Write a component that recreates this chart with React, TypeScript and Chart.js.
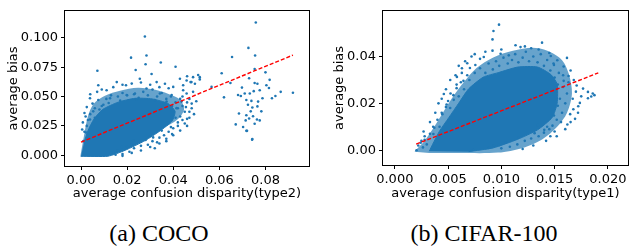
import React, { useEffect, useRef } from "react";
import { Chart, registerables } from "chart.js";

Chart.register(...registerables);

const FONT = "'DejaVu Sans', sans-serif";
const BLUE = "#1f77b4";
const BLUE_HALO = "rgba(31,119,180,0.68)";
const RED = "#ff0000";

// ---------- (a) COCO ----------
const cocoXTicks = [0, 0.02, 0.04, 0.06, 0.08];
const cocoXTickLabels = ["0.00", "0.02", "0.04", "0.06", "0.08"];
const cocoYTicks = [0, 0.025, 0.05, 0.075, 0.1];
const cocoYTickLabels = ["0.000", "0.025", "0.050", "0.075", "0.100"];
const cocoXRange = [-0.00694, 0.09887];
const cocoYRange = [-0.00914, 0.123];
const cocoXTitle = "average confusion disparity(type2)";
const cocoYTitle = "average bias";
const cocoCaption = "(a) COCO";

// saturated core of the COCO cloud (outline)
const cocoCore: [number, number][] = [
  [0.0, -0.0008], [0.0117, -0.0008], [0.0191, 0.0042], [0.0278, 0.0125], [0.0343, 0.0208],
  [0.0395, 0.0291], [0.0408, 0.0374], [0.0377, 0.0441], [0.0308, 0.048], [0.0234, 0.0485],
  [0.0161, 0.0452], [0.0095, 0.0391], [0.0056, 0.0308], [0.003, 0.0208], [0.0013, 0.0108],
];
// medium-density envelope of the COCO cloud (outline)
const cocoHalo: [number, number][] = [
  [-0.0003, -0.0012], [0.0013, 0.0166], [0.003, 0.0333], [0.0056, 0.0441], [0.0104, 0.0507],
  [0.0169, 0.0549], [0.0247, 0.0574], [0.0321, 0.0557], [0.0377, 0.0524], [0.0429, 0.0474],
  [0.0447, 0.0391], [0.0421, 0.0308], [0.0351, 0.0224], [0.0278, 0.0141], [0.0199, 0.0066],
  [0.0134, 0.0008], [0.0082, -0.0014],
];

const cocoPoints: [number, number][] = [
  // fringe of the cloud
  [0.003, 0.03], [0.004, 0.035], [0.006, 0.04], [0.005, 0.044], [0.0075, 0.047], [0.009, 0.042],
  [0.011, 0.048], [0.013, 0.051], [0.016, 0.05], [0.018, 0.053], [0.02, 0.051], [0.023, 0.052],
  [0.025, 0.049], [0.027, 0.054], [0.029, 0.051], [0.031, 0.056], [0.033, 0.05], [0.035, 0.053],
  [0.037, 0.048], [0.039, 0.05], [0.041, 0.045], [0.043, 0.048], [0.042, 0.04], [0.044, 0.042],
  [0.045, 0.037], [0.043, 0.033], [0.046, 0.031], [0.042, 0.028], [0.04, 0.023], [0.038, 0.02],
  [0.036, 0.017], [0.034, 0.015], [0.031, 0.012], [0.029, 0.009], [0.026, 0.008], [0.023, 0.006],
  [0.021, 0.003], [0.018, 0.001], [0.015, 0.0005], [0.013, 0.002], [0.001, 0.012], [0.0015, 0.02],
  [0.0025, 0.025], [0.002, 0.033], [0.006, 0.032], [0.008, 0.039], [0.012, 0.0445], [0.017, 0.0465],
  [0.024, 0.0475], [0.032, 0.047], [0.036, 0.044], [0.0395, 0.042], [0.041, 0.032], [0.039, 0.024],
  [0.035, 0.021], [0.03, 0.0165], [0.028, 0.013], [0.022, 0.009], [0.02, 0.007], [0.016, 0.004],
  [0.0075, 0.0596], [0.0111, 0.0554], [0.0039, 0.0485], [0.0039, 0.0305], [0.0022, 0.0194],
  [0.0053, 0.0374], [0.0155, 0.0623], [0.0195, 0.0596], [0.0255, 0.0651], [0.0306, 0.0692],
  [0.0328, 0.0623], [0.0364, 0.0609], [0.04, 0.0582], [0.0429, 0.0651], [0.0458, 0.0637],
  [0.0479, 0.0623], [0.0515, 0.0665], [0.0393, 0.0513], [0.0436, 0.0457], [0.0414, 0.0401],
  [0.0313, 0.0152], [0.0226, 0.0125], [0.0176, 0.0069], [0.014, 0.0027], [0.0371, 0.0457],
  [0.0342, 0.0526], [0.0284, 0.0568], [0.0234, 0.0526], [0.0198, 0.0513], [0.0126, 0.0485],
  [0.0097, 0.043], [0.044, 0.05], [0.047, 0.048], [0.048, 0.044], [0.05, 0.046], [0.0455, 0.041],
  [0.047, 0.037], [0.044, 0.03], [0.042, 0.025], [0.0395, 0.018], [0.045, 0.027], [0.037, 0.012],
  [0.034, 0.01], [0.032, 0.006],
  [0.0005, 0.022], [0.0008, 0.028], [0.0015, 0.036], [0.0025, 0.041], [0.004, 0.052], [0.007, 0.054],
  [0.009, 0.056], [0.014, 0.058], [0.018, 0.06], [0.022, 0.061], [0.026, 0.062], [0.03, 0.06],
  [0.034, 0.058], [0.038, 0.057], [0.046, 0.045], [0.048, 0.04], [0.049, 0.035], [0.047, 0.032],
  [0.046, 0.025], [0.043, 0.021], [0.04, 0.017], [0.037, 0.014], [0.033, 0.011], [0.03, 0.007],
  [0.026, 0.004], [0.022, 0.002], [0.018, -0.0005],
  [0.046, 0.0673], [0.0486, 0.0665], [0.0508, 0.0684], [0.0515, 0.0646], [0.0475, 0.0623],
  [0.0494, 0.0609], [0.0443, 0.0596], [0.0443, 0.0554], [0.0458, 0.0526], [0.0486, 0.054],
  [0.0566, 0.0582],
  // outliers
  [0.0758, 0.113], [0.0277, 0.1011], [0.0071, 0.072], [0.0217, 0.0831], [0.0284, 0.085],
  [0.0346, 0.079], [0.041, 0.0754], [0.0237, 0.0726], [0.028, 0.0775], [0.061, 0.0698],
  [0.0655, 0.0837], [0.0726, 0.0914], [0.0755, 0.085], [0.0919, 0.0532], [0.062, 0.0493],
  [0.0742, 0.0133], [0.0717, 0.0208], [0.0671, 0.0263],
  // right-hand cluster
  [0.0753, 0.0734], [0.08, 0.0706], [0.0729, 0.0656], [0.0753, 0.0615], [0.0765, 0.0609],
  [0.0818, 0.0642], [0.0804, 0.0596], [0.0698, 0.0576], [0.0815, 0.0573], [0.0648, 0.0615],
  [0.0749, 0.0546], [0.0775, 0.0554], [0.071, 0.0526], [0.0732, 0.0526], [0.0681, 0.0513],
  [0.0693, 0.0504], [0.0866, 0.054], [0.0787, 0.0485], [0.0828, 0.0485], [0.0843, 0.0504],
  [0.0717, 0.0471], [0.0739, 0.0463], [0.0768, 0.0457], [0.0724, 0.043], [0.0743, 0.0407],
  [0.0765, 0.0416], [0.0736, 0.0374], [0.0782, 0.0374], [0.0685, 0.0355], [0.0717, 0.0341],
  [0.0746, 0.0332], [0.0729, 0.0313], [0.0763, 0.0305], [0.0714, 0.0297], [0.0775, 0.0297],
  [0.0753, 0.0268], [0.0703, 0.0241], [0.072, 0.0208], [0.0743, 0.0139],
];

const cocoFitX = [0.0, 0.0919];
const cocoFitY = [0.0112, 0.0853];

// ---------- (b) CIFAR-100 ----------
const cifarXTicks = [0, 0.005, 0.01, 0.015, 0.02];
const cifarXTickLabels = ["0.000", "0.005", "0.010", "0.015", "0.020"];
const cifarYTicks = [0, 0.02, 0.04];
const cifarYTickLabels = ["0.00", "0.02", "0.04"];
const cifarXRange = [-0.00111, 0.02189];
const cifarYRange = [-0.0063, 0.0595];
const cifarXTitle = "average confusion disparity(type1)";
const cifarYTitle = "average bias";
const cifarCaption = "(b) CIFAR-100";

const cifarCore: [number, number][] = [
  [0.00323, -0.0004], [0.00416, 0.0079], [0.00508, 0.014], [0.006, 0.0201], [0.00693, 0.0262],
  [0.00831, 0.0312], [0.0097, 0.0331], [0.01155, 0.0355], [0.0134, 0.0355], [0.01465, 0.0323],
  [0.01524, 0.0282], [0.01524, 0.0201], [0.01478, 0.014], [0.0134, 0.0087], [0.01155, 0.0047],
  [0.00924, 0.001], [0.00693, -0.0006],
];
const cifarHalo: [number, number][] = [
  [0.00185, -0.0006], [0.00277, 0.0039], [0.0037, 0.01], [0.00462, 0.0169], [0.00554, 0.0234],
  [0.00647, 0.029], [0.00767, 0.0351], [0.00924, 0.0396], [0.01109, 0.0424], [0.01293, 0.0437],
  [0.01432, 0.0424], [0.0157, 0.0384], [0.01635, 0.0323], [0.01663, 0.0242], [0.01617, 0.016],
  [0.01524, 0.01], [0.01386, 0.0047], [0.01201, 0.001], [0.0097, -0.001], [0.006, -0.0012],
  [0.00323, -0.0012],
];

const cifarPoints: [number, number][] = [
  // fringe of the cloud
  [0.007, 0.03], [0.0075, 0.033], [0.008, 0.035], [0.0085, 0.033], [0.0088, 0.037], [0.0092, 0.0345],
  [0.0095, 0.038], [0.0098, 0.036], [0.0102, 0.0395], [0.0106, 0.037], [0.011, 0.0385], [0.0113, 0.041],
  [0.0116, 0.0375], [0.012, 0.0395], [0.0123, 0.042], [0.0126, 0.038], [0.013, 0.04], [0.0134, 0.0375],
  [0.0137, 0.041], [0.014, 0.036], [0.0143, 0.0385], [0.0146, 0.034], [0.0149, 0.037], [0.015, 0.031],
  [0.0153, 0.028], [0.0151, 0.025], [0.0155, 0.022], [0.0153, 0.019], [0.0157, 0.016], [0.0152, 0.013],
  [0.0148, 0.0105], [0.0145, 0.009], [0.014, 0.0075], [0.0135, 0.006], [0.0128, 0.005], [0.0122, 0.004],
  [0.0115, 0.0025], [0.0108, 0.0015], [0.01, 0.0008], [0.0093, 0.002], [0.0088, 0.001],
  [0.003, 0.0025], [0.0028, 0.0045], [0.0033, 0.007], [0.0036, 0.01], [0.004, 0.013], [0.0044, 0.016],
  [0.0048, 0.0185], [0.005, 0.021], [0.0055, 0.0235], [0.0058, 0.0265], [0.0062, 0.029], [0.0065, 0.026],
  [0.0068, 0.032], [0.006, 0.023], [0.0052, 0.018], [0.0042, 0.01],
  [0.016, 0.02], [0.0158, 0.027], [0.0163, 0.029], [0.0167, 0.022], [0.0156, 0.012], [0.0162, 0.011],
  [0.015, 0.008], [0.0146, 0.006], [0.0158, 0.032], [0.0165, 0.034], [0.017, 0.025], [0.0175, 0.023],
  [0.008, 0.039], [0.0072, 0.04], [0.01, 0.043], [0.0118, 0.044], [0.0128, 0.0435], [0.0135, 0.043],
  [0.0145, 0.0415], [0.0085, 0.042], [0.0063, 0.035], [0.0058, 0.028], [0.0048, 0.026], [0.0044, 0.022],
  [0.0038, 0.016], [0.0041, 0.02], [0.0046, 0.024], [0.0052, 0.03], [0.0057, 0.032], [0.006, 0.036],
  [0.0066, 0.038], [0.0075, 0.041], [0.0033, 0.012], [0.0027, 0.008], [0.0025, 0.004], [0.0022, 0.002],
  [0.0168, 0.03], [0.0172, 0.016], [0.0165, 0.012], [0.016, 0.009], [0.0152, 0.006], [0.0142, 0.004],
  [0.013, 0.002], [0.012, 0.0005],
  // sparse edge and outliers
  [0.00978, 0.0536], [0.00926, 0.0509], [0.00917, 0.0473], [0.01382, 0.0459], [0.01133, 0.0448],
  [0.01221, 0.0443], [0.00917, 0.0425], [0.00993, 0.0412], [0.0107, 0.0405], [0.00835, 0.0398],
  [0.01464, 0.0402], [0.01616, 0.0394], [0.01525, 0.0384], [0.01585, 0.0357], [0.0068, 0.0371],
  [0.00705, 0.0351], [0.00756, 0.0364], [0.00629, 0.033], [0.00583, 0.0313], [0.00644, 0.0296],
  [0.00523, 0.0242], [0.00553, 0.0215], [0.00486, 0.0195], [0.00446, 0.0154], [0.00371, 0.0096],
  [0.00362, 0.0069], [0.0028, 0.006], [0.00243, 0.0032], [0.00204, 0.0], [0.00264, 0.0012],
  [0.01707, 0.0276], [0.01767, 0.0263], [0.01813, 0.0249], [0.01858, 0.0242], [0.01844, 0.0229],
  [0.01874, 0.0235], [0.01813, 0.0222], [0.01737, 0.0202], [0.01676, 0.0175], [0.01722, 0.0188],
  [0.01692, 0.0134], [0.01646, 0.0154], [0.01616, 0.0242], [0.01631, 0.0317], [0.01585, 0.0296],
  [0.0154, 0.033], [0.01494, 0.0364], [0.01403, 0.0087], [0.0143, 0.01], [0.01494, 0.0148],
  [0.01343, 0.0107], [0.01312, 0.0073], [0.01161, 0.0053], [0.00887, 0.0012], [0.01039, 0.0032],
  [0.00735, 0.0002], [0.00978, 0.0022],
];

const cifarFitX = [0.002, 0.0191];
const cifarFitY = [0.0026, 0.033];

type PanelProps = {
  left: number;
  width: number;
  height: number;
  pad: { left: number; top: number; right: number; bottom: number };
  yAxisWidth: number;
  xAxisHeight: number;
  yTitlePad: number;
  xTitlePad: number;
  xRange: number[];
  yRange: number[];
  xTicks: number[];
  xTickLabels: string[];
  yTicks: number[];
  yTickLabels: string[];
  xTitle: string;
  yTitle: string;
  core: [number, number][];
  halo: [number, number][];
  points: [number, number][];
  fitX: number[];
  fitY: number[];
};

const framePlugin = {
  id: "frame",
  afterDatasetsDraw(chart: any) {
    const { ctx, chartArea } = chart;
    const l = Math.round(chartArea.left) - 0.5;
    const t = Math.round(chartArea.top) - 0.5;
    const r = Math.round(chartArea.right) + 0.5;
    const b = Math.round(chartArea.bottom) + 0.5;
    ctx.save();
    ctx.strokeStyle = "#000";
    ctx.lineWidth = 1;
    ctx.strokeRect(l, t, r - l, b - t);
    ctx.restore();
  },
};

function ScatterPanel(p: PanelProps) {
  const ref = useRef<HTMLCanvasElement | null>(null);
  useEffect(() => {
    if (!ref.current) return;
    const tickFont = { family: FONT, size: 13 };
    const chart = new Chart(ref.current, {
      type: "scatter",
      data: {
        datasets: [
          {
            label: "fit",
            data: p.fitX.map((x, i) => ({ x, y: p.fitY[i] })),
            showLine: true,
            borderColor: RED,
            borderWidth: 1.4,
            borderDash: [4, 2],
            pointRadius: 0,
            fill: false,
          } as any,
          {
            label: "points",
            data: p.points.map(([x, y]) => ({ x, y })),
            pointRadius: 1.3,
            pointBackgroundColor: BLUE,
            pointBorderWidth: 0,
            pointBorderColor: BLUE,
          },
          {
            label: "core",
            data: p.core.map(([x, y]) => ({ x, y })),
            showLine: true,
            fill: "shape",
            backgroundColor: BLUE,
            borderColor: BLUE,
            borderWidth: 1,
            pointRadius: 0,
            tension: 0.2,
          } as any,
          {
            label: "halo",
            data: p.halo.map(([x, y]) => ({ x, y })),
            showLine: true,
            fill: "shape",
            backgroundColor: BLUE_HALO,
            borderColor: "rgba(0,0,0,0)",
            borderWidth: 0,
            pointRadius: 0,
            tension: 0.3,
          } as any,
        ],
      },
      options: {
        responsive: false,
        animation: false,
        devicePixelRatio: 1,
        layout: { padding: p.pad },
        plugins: { legend: { display: false }, tooltip: { enabled: false } },
        scales: {
          x: {
            type: "linear",
            min: p.xRange[0],
            max: p.xRange[1],
            afterBuildTicks: (s: any) => {
              s.ticks = p.xTicks.map((v) => ({ value: v }));
            },
            afterFit: (s: any) => {
              s.height = p.xAxisHeight;
            },
            ticks: {
              autoSkip: false,
              maxRotation: 0,
              padding: 3,
              color: "#000",
              font: tickFont,
              callback: (_v: any, i: number) => p.xTickLabels[i],
            },
            grid: { display: true, drawOnChartArea: false, drawTicks: true, tickLength: 4, color: "#000" },
            border: { display: false },
            title: {
              display: true,
              text: p.xTitle,
              color: "#000",
              font: { family: FONT, size: 13 },
              padding: { top: 0, bottom: p.xTitlePad },
            },
          },
          y: {
            type: "linear",
            min: p.yRange[0],
            max: p.yRange[1],
            afterBuildTicks: (s: any) => {
              s.ticks = p.yTicks.map((v) => ({ value: v }));
            },
            afterFit: (s: any) => {
              s.width = p.yAxisWidth;
            },
            ticks: {
              autoSkip: false,
              padding: 3,
              color: "#000",
              font: tickFont,
              callback: (_v: any, i: number) => p.yTickLabels[i],
            },
            grid: { display: true, drawOnChartArea: false, drawTicks: true, tickLength: 4, color: "#000" },
            border: { display: false },
            title: {
              display: true,
              text: p.yTitle,
              color: "#000",
              font: { family: FONT, size: 13 },
              padding: { top: p.yTitlePad, bottom: 0 },
            },
          },
        },
      },
      plugins: [framePlugin],
    });
    return () => chart.destroy();
  }, []);
  return (
    <canvas
      ref={ref}
      width={p.width}
      height={p.height}
      style={{ position: "absolute", left: p.left, top: 0, width: p.width, height: p.height }}
    />
  );
}

const captionStyle: React.CSSProperties = {
  position: "absolute",
  top: 219,
  fontFamily: "'Liberation Serif', 'Times New Roman', serif",
  fontSize: 24,
  lineHeight: "28px",
  color: "#000",
  whiteSpace: "nowrap",
  transform: "translateX(-50%)",
};

export default function App() {
  return (
    <div
      style={{
        position: "fixed",
        left: 0,
        top: 0,
        width: 630,
        height: 251,
        overflow: "hidden",
        background: "#fff",
      }}
    >
      <ScatterPanel
        left={0}
        width={320}
        height={205}
        pad={{ left: 0, top: 7, right: 11, bottom: 0 }}
        yAxisWidth={65}
        xAxisHeight={39}
        yTitlePad={5.5}
        xTitlePad={3.5}
        xRange={cocoXRange}
        yRange={cocoYRange}
        xTicks={cocoXTicks}
        xTickLabels={cocoXTickLabels}
        yTicks={cocoYTicks}
        yTickLabels={cocoYTickLabels}
        xTitle={cocoXTitle}
        yTitle={cocoYTitle}
        core={cocoCore}
        halo={cocoHalo}
        points={cocoPoints}
        fitX={cocoFitX}
        fitY={cocoFitY}
      />
      <ScatterPanel
        left={320}
        width={312}
        height={205}
        pad={{ left: 0, top: 3, right: 0, bottom: 0 }}
        yAxisWidth={63}
        xAxisHeight={40}
        yTitlePad={11.4}
        xTitlePad={3.5}
        xRange={cifarXRange}
        yRange={cifarYRange}
        xTicks={cifarXTicks}
        xTickLabels={cifarXTickLabels}
        yTicks={cifarYTicks}
        yTickLabels={cifarYTickLabels}
        xTitle={cifarXTitle}
        yTitle={cifarYTitle}
        core={cifarCore}
        halo={cifarHalo}
        points={cifarPoints}
        fitX={cifarFitX}
        fitY={cifarFitY}
      />
      <div style={{ ...captionStyle, left: 159 }}>{cocoCaption}</div>
      <div style={{ ...captionStyle, left: 484 }}>{cifarCaption}</div>
    </div>
  );
}
